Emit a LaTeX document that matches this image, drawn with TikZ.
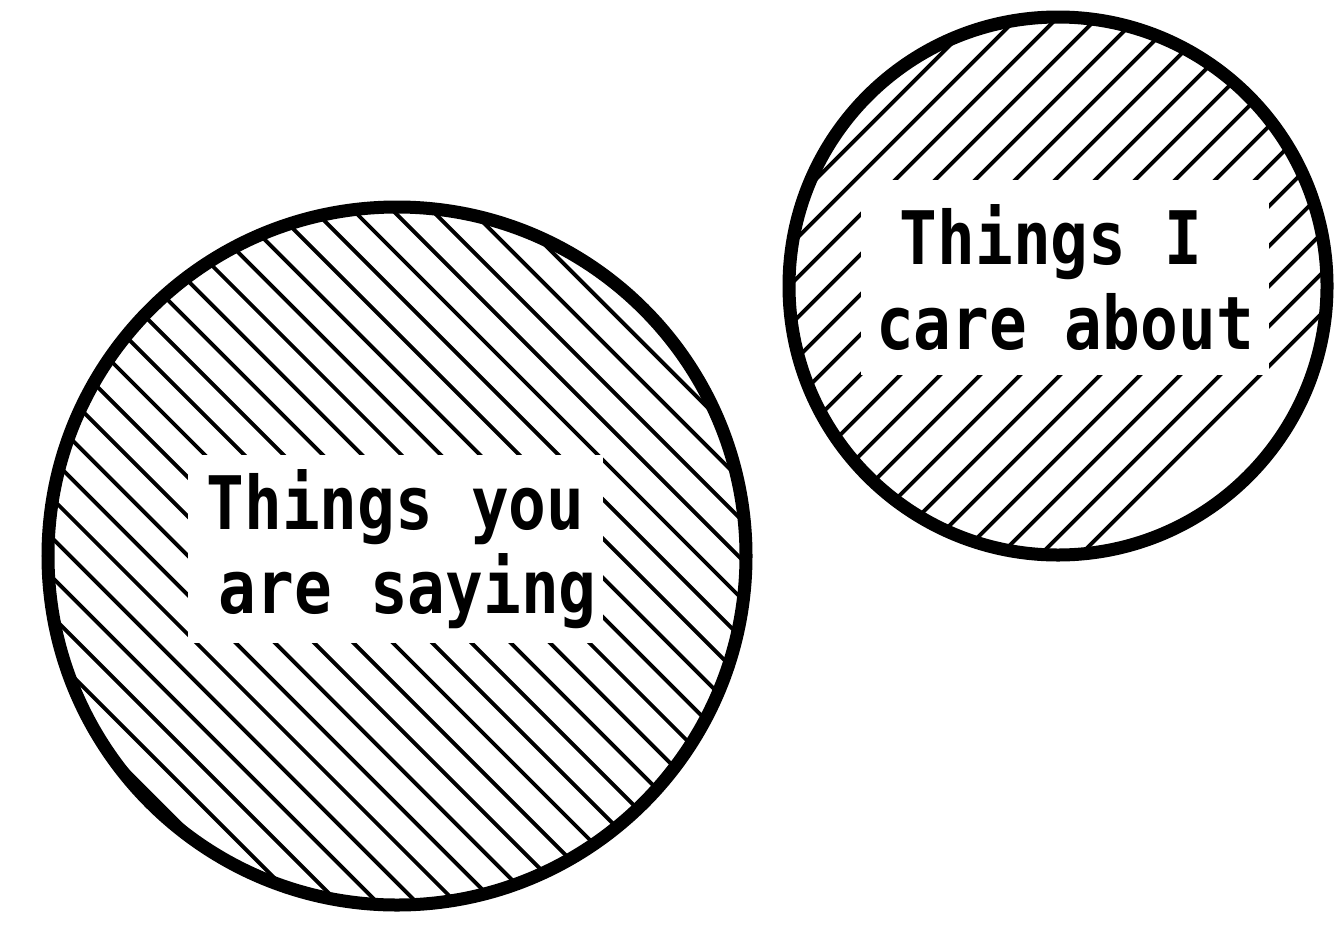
\documentclass[tikz,border=0pt]{standalone}
\usepackage{fontspec}
\newfontfamily\handfont[FakeStretch=0.85]{DejaVu Sans Mono}
\begin{document}
\begin{tikzpicture}[x=0.02cm,y=-0.02cm,
  ring/.style={draw=black, line width=7.4pt, circle, inner sep=0pt, fill=none},
  hatch/.style={line width=2.2pt, line cap=butt},
  labelbox/.style={fill=white, inner sep=0pt, align=center,
    font=\handfont\bfseries\fontsize{42}{48}\selectfont}]
\useasboundingbox (0,0) rectangle (1338,930);
% big circle hatching
\begin{scope}
  \clip (397,556) circle [radius=349];
  \foreach \k in {-16,...,12} {
    \draw[hatch] (0,{250+39.3*\k}) -- (1338,{1338+250+39.3*\k});
  }
\end{scope}
% small circle hatching
\begin{scope}
  \clip (1058,286) circle [radius=269];
  \foreach \k in {-12,...,14} {
    \draw[hatch] ({1075+40*\k},0) -- ({1075+40*\k-1338},1338);
  }
\end{scope}
\node[labelbox, minimum width=415*0.02cm, minimum height=188*0.02cm] (saying) at (395.5,549)
  {Things you\\\hspace*{14pt}are saying};
\node[labelbox, minimum width=408*0.02cm, minimum height=195*0.02cm] (care) at (1065,277.5)
  {Things I\hspace*{16pt}\\care about};
\node[ring, minimum size=698*0.02cm] (big) at (397,556) {};
\node[ring, minimum size=538*0.02cm] (small) at (1058,286) {};
\end{tikzpicture}
\end{document}
